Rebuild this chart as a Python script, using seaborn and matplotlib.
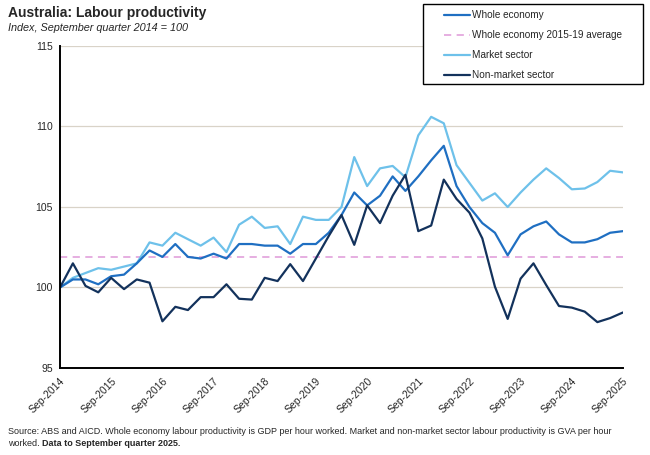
import pandas as pd
import numpy as np
import matplotlib.pyplot as plt
from matplotlib.patches import Rectangle
from matplotlib.lines import Line2D
import seaborn as sns

sns.set_style("white")
plt.rcParams['font.family'] = ['Liberation Sans', 'DejaVu Sans']

# quarterly index, Sep-2014 = 100
quarters = pd.date_range('2014-09-30', periods=45, freq='QE')

whole_economy = [100, 100.5, 100.5, 100.2, 100.7, 100.8, 101.5, 102.3, 101.9, 102.7,
                 101.9, 101.8, 102.1, 101.8, 102.7, 102.7, 102.6, 102.6, 102.1, 102.7,
                 102.7, 103.4, 104.5, 105.9, 105.1, 105.7, 106.9, 106.0, 106.9, 107.9,
                 108.8, 106.3, 105.0, 104.0, 103.4, 102.0, 103.3, 103.8, 104.1, 103.3,
                 102.8, 102.8, 103.0, 103.4, 103.5]
market = [100, 100.6, 100.9, 101.2, 101.1, 101.3, 101.5, 102.8, 102.6, 103.4,
          103.0, 102.6, 103.1, 102.2, 103.9, 104.4, 103.7, 103.8, 102.7, 104.4,
          104.2, 104.2, 105.0, 108.1, 106.3, 107.4, 107.55, 106.85, 109.45, 110.6,
          110.2, 107.6, 106.5, 105.4, 105.85, 105.0, 105.9, 106.7, 107.4, 106.8,
          106.1, 106.15, 106.55, 107.25, 107.15]
non_market = [100, 101.5, 100.1, 99.7, 100.6, 99.9, 100.5, 100.3, 97.9, 98.8,
              98.6, 99.4, 99.4, 100.2, 99.3, 99.25, 100.6, 100.4, 101.45, 100.4,
              101.8, 103.2, 104.5, 102.65, 105.1, 104.0, 105.7, 107.0, 103.5, 103.85,
              106.7, 105.5, 104.65, 103.05, 100.05, 98.05, 100.55, 101.5, 100.15, 98.85,
              98.75, 98.5, 97.85, 98.1, 98.45]
avg_2015_19 = 101.9

colors = {'Whole economy': '#1f6fc2', 'Market sector': '#6ec1ea',
          'Non-market sector': '#13325c'}
avg_color = '#e4a8de'

df = pd.DataFrame({'quarter': quarters, 'Whole economy': whole_economy,
                   'Market sector': market, 'Non-market sector': non_market})
long = df.melt(id_vars='quarter', var_name='series', value_name='index')

fig = plt.figure(figsize=(6.5, 4.55), dpi=100)
ax = fig.add_axes([60/650, 1-368/455, 563/650, 322/455])

for y in [100, 105, 110, 115]:
    ax.axhline(y, color='#d9d3c8', lw=0.9, zorder=0)
ax.axhline(avg_2015_19, color=avg_color, lw=1.3, ls=(0, (4, 3)), zorder=1)

sns.lineplot(data=long, x='quarter', y='index', hue='series',
             hue_order=['Market sector', 'Whole economy', 'Non-market sector'],
             palette=colors, lw=1.6, legend=False, ax=ax, zorder=2)

ax.set_xlim(quarters[0], quarters[-1])
ax.set_ylim(95, 115)
ax.set_yticks([95, 100, 105, 110, 115])
ax.set_xticks(quarters[::4])
ax.set_xticklabels([d.strftime('%b-%Y') for d in quarters[::4]],
                   rotation=45, ha='right', rotation_mode='anchor')
ax.tick_params(axis='both', labelsize=7.5, length=3, width=1, color='black',
               direction='out', pad=2)
ax.tick_params(axis='x', pad=3)
ax.set_xlabel('')
ax.set_ylabel('')
for side in ['top', 'right']:
    ax.spines[side].set_visible(False)
for side in ['left', 'bottom']:
    ax.spines[side].set_color('black')
    ax.spines[side].set_linewidth(1.4)

# titles
fig.text(8/650, 1-6/455, 'Australia: Labour productivity', fontsize=10,
         fontweight='bold', va='top', ha='left')
fig.text(8/650, 1-23/455, 'Index, September quarter 2014 = 100', fontsize=7.8,
         style='italic', va='top', ha='left')

# legend box
fig.patches.append(Rectangle((423/650, 1-84/455), 220/650, 80/455,
                             transform=fig.transFigure, fill=True,
                             facecolor='white', edgecolor='black', lw=1, zorder=5))
handles = [Line2D([], [], color=colors['Whole economy'], lw=1.6),
           Line2D([], [], color=avg_color, lw=1.3, ls=(0, (4, 3))),
           Line2D([], [], color=colors['Market sector'], lw=1.6),
           Line2D([], [], color=colors['Non-market sector'], lw=1.6)]
labels = ['Whole economy', 'Whole economy 2015-19 average', 'Market sector',
          'Non-market sector']
leg = fig.legend(handles, labels, loc='upper left', bbox_to_anchor=(436/650, 1-2/455),
                 frameon=False, fontsize=7.2, handlelength=2.6, handletextpad=0.15,
                 labelspacing=1.0, borderpad=0.3)
leg.set_zorder(6)

# footnote
fig.text(8/650, 1-431/455,
         'Source: ABS and AICD. Whole economy labour productivity is GDP per hour worked. '
         'Market and non-market sector labour productivity is GVA per hour',
         fontsize=6.45, va='center', ha='left')
t2 = fig.text(8/650, 1-443/455, 'worked. ', fontsize=6.45, va='center', ha='left')
ax.annotate('Data to September quarter 2025.', xy=(1, 0), xycoords=t2,
            va='bottom', ha='left', fontsize=6.45, fontweight='bold',
            annotation_clip=False)

fig.savefig('out.png', dpi=100)
